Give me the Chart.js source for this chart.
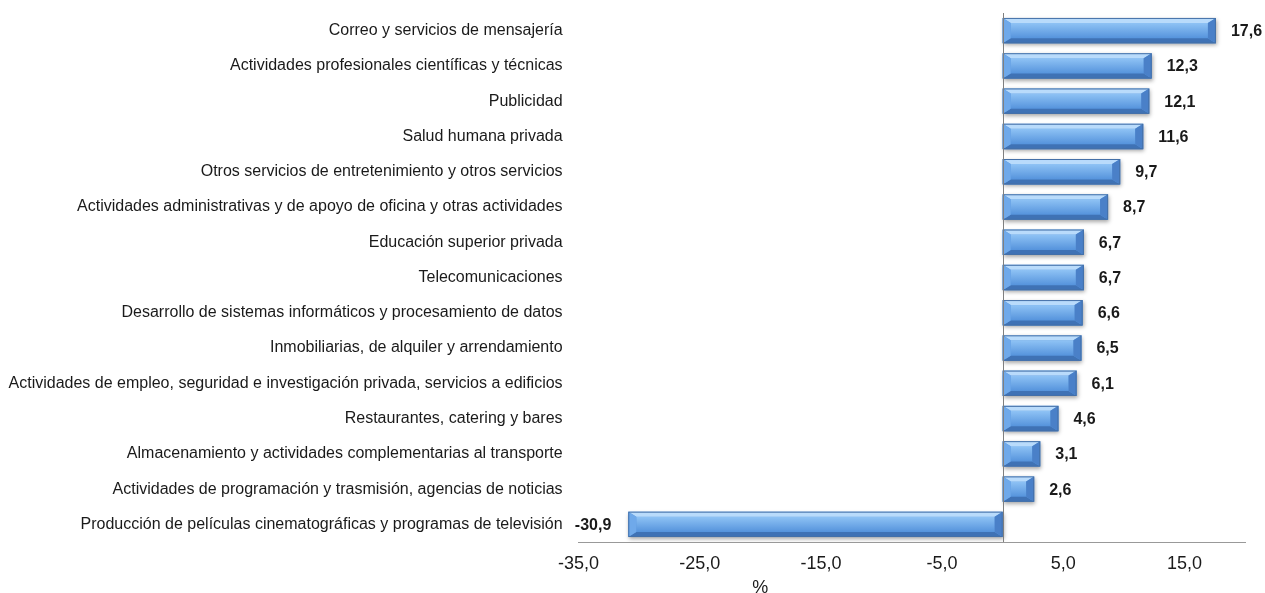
<!DOCTYPE html>
<html>
<head>
<meta charset="utf-8">
<script src="https://cdn.jsdelivr.net/npm/chart.js@4/dist/chart.umd.min.js"></script>
<style>
  html, body { margin: 0; padding: 0; background: #fff; }
  #wrap { width: 1265px; height: 593px; }
</style>
</head>
<body>
<div id="wrap"><canvas id="barChart" width="1265" height="593"></canvas></div>
<script>
// categorías y variación (%)
const categorias = [
  'Correo y servicios de mensajería',
  'Actividades profesionales científicas y técnicas',
  'Publicidad',
  'Salud humana privada',
  'Otros servicios de entretenimiento y otros servicios',
  'Actividades administrativas y de apoyo de oficina y otras actividades',
  'Educación superior privada',
  'Telecomunicaciones',
  'Desarrollo de sistemas informáticos y procesamiento de datos',
  'Inmobiliarias, de alquiler y arrendamiento',
  'Actividades de empleo, seguridad e investigación privada, servicios a edificios',
  'Restaurantes, catering y bares',
  'Almacenamiento y actividades complementarias al transporte',
  'Actividades de programación y trasmisión, agencias de noticias',
  'Producción de películas cinematográficas y programas de televisión'
];
const variacion = [17.6, 12.3, 12.1, 11.6, 9.7, 8.7, 6.7, 6.7, 6.6, 6.5, 6.1, 4.6, 3.1, 2.6, -30.9];
const ticksX = [-35, -25, -15, -5, 5, 15];
const ejeMin = -35;
const ejeMax = 20;
const tituloX = '%';

const fmt = v => v.toFixed(1).replace('.', ',');
const FONT = '"Liberation Sans", Arial, sans-serif';

// sombra y biseles de las barras
const bevelPlugin = {
  id: 'bevel',
  beforeDatasetsDraw(chart) {
    const ctx = chart.ctx;
    ctx.save();
    ctx.shadowColor = 'rgba(0,0,0,0.35)';
    ctx.shadowBlur = 4;
    ctx.shadowOffsetX = 1;
    ctx.shadowOffsetY = 2;
  },
  afterDatasetsDraw(chart) {
    const ctx = chart.ctx;
    ctx.restore();
    chart.getDatasetMeta(0).data.forEach(bar => {
      const l = Math.min(bar.x, bar.base), r = Math.max(bar.x, bar.base);
      const t = bar.y - bar.height / 2, b = bar.y + bar.height / 2;
      const d = Math.min(8, (r - l) / 2), e = 5;
      ctx.save();
      // cara central
      const g = ctx.createLinearGradient(0, t + e, 0, b - e);
      g.addColorStop(0, '#8fc3f5');
      g.addColorStop(1, '#5593dc');
      ctx.fillStyle = g;
      ctx.fillRect(l + d, t + e, r - l - 2 * d, b - t - 2 * e);
      // cara superior
      ctx.fillStyle = '#b9dbfb';
      ctx.beginPath(); ctx.moveTo(l, t); ctx.lineTo(r, t); ctx.lineTo(r - d, t + e); ctx.lineTo(l + d, t + e); ctx.fill();
      // cara inferior
      ctx.fillStyle = '#3f72b5';
      ctx.beginPath(); ctx.moveTo(l, b); ctx.lineTo(r, b); ctx.lineTo(r - d, b - e); ctx.lineTo(l + d, b - e); ctx.fill();
      // extremos
      ctx.fillStyle = '#6fa9ea';
      ctx.beginPath(); ctx.moveTo(l, t); ctx.lineTo(l + d, t + e); ctx.lineTo(l + d, b - e); ctx.lineTo(l, b); ctx.fill();
      ctx.fillStyle = '#4a80c8';
      ctx.beginPath(); ctx.moveTo(r, t); ctx.lineTo(r - d, t + e); ctx.lineTo(r - d, b - e); ctx.lineTo(r, b); ctx.fill();
      ctx.strokeStyle = '#4470a8';
      ctx.lineWidth = 1;
      ctx.strokeRect(l + 0.5, t + 0.5, r - l - 1, b - t - 1);
      ctx.restore();
    });
  }
};

// etiquetas de valores, línea del cero y título del eje
const extrasPlugin = {
  id: 'extras',
  afterDatasetsDraw(chart) {
    const ctx = chart.ctx;
    const xs = chart.scales.x;
    const area = chart.chartArea;
    const x0 = Math.round(xs.getPixelForValue(0)) + 0.5;
    ctx.save();
    ctx.strokeStyle = '#7f7f7f';
    ctx.lineWidth = 1;
    ctx.beginPath(); ctx.moveTo(x0, area.top); ctx.lineTo(x0, area.bottom); ctx.stroke();

    ctx.font = 'bold 16px ' + FONT;
    ctx.fillStyle = '#1a1a1a';
    ctx.textBaseline = 'middle';
    chart.getDatasetMeta(0).data.forEach((bar, i) => {
      const v = variacion[i];
      if (v >= 0) {
        ctx.textAlign = 'left';
        ctx.fillText(fmt(v), bar.x + 15, bar.y + 1);
      } else {
        ctx.textAlign = 'right';
        ctx.fillText(fmt(v), bar.x - 17, bar.y + 1);
      }
    });

    ctx.font = '18px ' + FONT;
    ctx.textAlign = 'center';
    ctx.fillText(tituloX, xs.getPixelForValue(-20), area.bottom + 46);
    ctx.restore();
  }
};

new Chart(document.getElementById('barChart'), {
  type: 'bar',
  data: {
    labels: categorias,
    datasets: [{
      data: variacion,
      backgroundColor: '#5b98dd',
      borderWidth: 0,
      categoryPercentage: 1,
      barPercentage: 0.72
    }]
  },
  options: {
    indexAxis: 'y',
    responsive: false,
    animation: false,
    layout: { padding: { top: 13, right: 20, left: 0, bottom: 0 } },
    plugins: {
      legend: { display: false },
      tooltip: { enabled: false }
    },
    scales: {
      x: {
        min: ejeMin,
        max: ejeMax,
        afterBuildTicks: s => { s.ticks = ticksX.map(v => ({ value: v })); },
        afterFit: s => { s.height = 51; },
        grid: { display: false, drawTicks: false },
        border: { display: true, color: '#999999' },
        ticks: {
          padding: 11,
          maxRotation: 0,
          color: '#1a1a1a',
          font: { family: FONT, size: 18 },
          callback: v => fmt(v)
        }
      },
      y: {
        afterFit: s => { s.width = 578.6; s.paddingTop = 0; s.paddingBottom = 0; },
        grid: { display: false, drawTicks: false },
        border: { display: false },
        ticks: {
          padding: 16,
          color: '#1a1a1a',
          font: { family: FONT, size: 16 }
        }
      }
    }
  },
  plugins: [bevelPlugin, extrasPlugin]
});
</script>
</body>
</html>
